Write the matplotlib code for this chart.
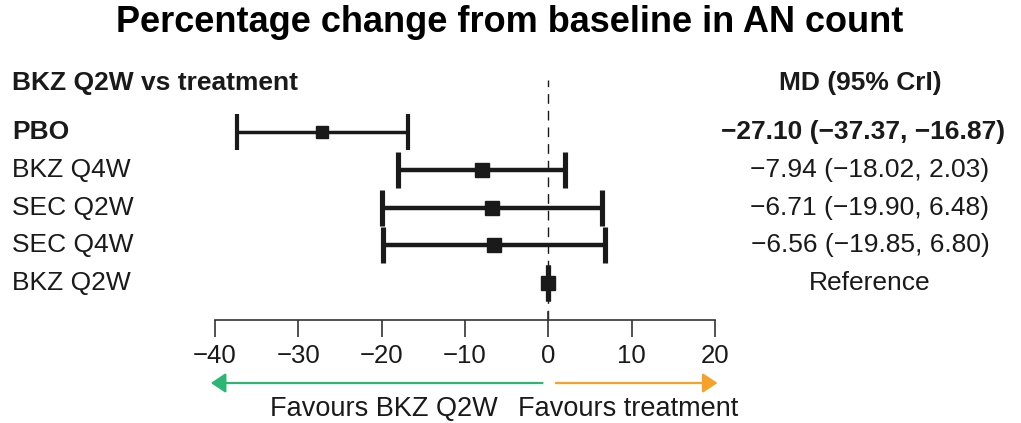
import matplotlib
matplotlib.use("Agg")
import matplotlib.pyplot as plt
from matplotlib.transforms import blended_transform_factory
import numpy as np

plt.rcParams['font.family'] = ['Liberation Sans', 'DejaVu Sans']

# Mean difference vs BKZ Q2W with 95% credible interval
treatments = ['PBO', 'BKZ Q4W', 'SEC Q2W', 'SEC Q4W', 'BKZ Q2W']
md = [-27.10, -7.94, -6.71, -6.56, 0.0]
lower = [-37.37, -18.02, -19.90, -19.85, 0.0]
upper = [-16.87, 2.03, 6.48, 6.80, 0.0]
md_labels = ['\u221227.10 (\u221237.37, \u221216.87)',
             '\u22127.94 (\u221218.02, 2.03)',
             '\u22126.71 (\u221219.90, 6.48)',
             '\u22126.56 (\u221219.85, 6.80)',
             'Reference']
xticks = [-40, -30, -20, -10, 0, 10, 20]

W, H = 1021, 423
fig = plt.figure(figsize=(W / 100, H / 100), dpi=100)
ax = fig.add_axes([215 / W, 103 / H, 500 / W, 240 / H])
ax.set_xlim(-40, 20)
ax.set_ylim(4.98, -1.38)

ink = '#1a1a1a'
fs = 19
for i in range(len(treatments)):
    lw = 2.5 if i == 0 else 3.2
    ms = 9 if i == 0 else 10
    ax.errorbar(md[i], i, xerr=[[md[i] - lower[i]], [upper[i] - md[i]]],
                fmt='s', color=ink, ms=ms, elinewidth=lw, capsize=13,
                capthick=lw + 0.5, zorder=3)

# line of no difference
ax.plot([0, 0], [4.98, -1.38], color=ink, lw=1, ls=(0, (7, 5)), zorder=1,
        clip_on=False)
ax.plot([0, 0], [4.98, 4.78], color='#333333', lw=1.2, clip_on=False)

for s in ['top', 'left', 'right']:
    ax.spines[s].set_visible(False)
ax.spines['bottom'].set_color('#333333')
ax.spines['bottom'].set_linewidth(1.2)
ax.set_yticks([])
ax.set_xticks(xticks)
ax.set_xticklabels([str(t).replace('-', '\u2212') for t in xticks])
ax.tick_params(axis='x', direction='out', length=12, width=1.2,
               color='#333333', labelsize=18.5, labelcolor=ink, pad=5)

rows = blended_transform_factory(fig.transFigure, ax.transData)
ax.text(12 / W, -1.3, 'BKZ Q2W vs treatment', transform=rows, fontsize=fs,
        fontweight='bold', color=ink, va='center', ha='left')
ax.text(860 / W, -1.3, 'MD (95% CrI)', transform=rows, fontsize=fs,
        fontweight='bold', color=ink, va='center', ha='center')
for i, (name, lab) in enumerate(zip(treatments, md_labels)):
    wt = 'bold' if i == 0 else 'normal'
    xc = 863 if i == 0 else 870
    ax.text(12 / W, i, name, transform=rows, fontsize=fs, fontweight=wt,
            color=ink, va='center', ha='left')
    ax.text(xc / W, i, lab, transform=rows, fontsize=fs, fontweight=wt,
            color=ink, va='center', ha='center')

fig.text(510 / W, 1 - 23 / H, 'Percentage change from baseline in AN count',
         fontsize=26, fontweight='bold', color='black', ha='center',
         va='center')

# direction arrows under the axis
arr = blended_transform_factory(ax.transData, fig.transFigure)
ya = 1 - 383 / H
head = '-|>,head_length=0.9,head_width=0.6'
ax.annotate('', xy=(-40.5, ya), xytext=(-0.7, ya), xycoords=arr,
            textcoords=arr, annotation_clip=False,
            arrowprops=dict(arrowstyle=head, color='#2bb673', lw=1.6,
                            shrinkA=0, shrinkB=0))
ax.annotate('', xy=(20.3, ya), xytext=(0.9, ya), xycoords=arr,
            textcoords=arr, annotation_clip=False,
            arrowprops=dict(arrowstyle=head, color='#f7a128', lw=1.6,
                            shrinkA=0, shrinkB=0))
fig.text(384 / W, 1 - 409 / H, 'Favours BKZ Q2W', fontsize=19.5, color=ink,
         ha='center', va='center')
fig.text(628 / W, 1 - 409 / H, 'Favours treatment', fontsize=19.5, color=ink,
         ha='center', va='center')

fig.savefig('out.png', dpi=100)
